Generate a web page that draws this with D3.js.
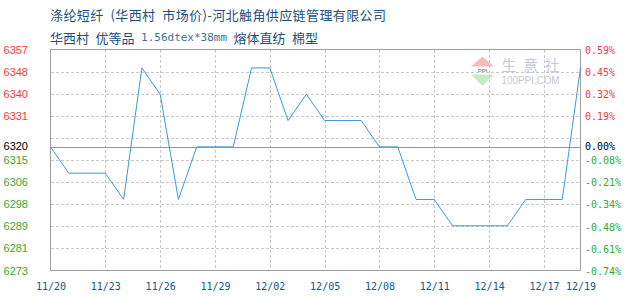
<!DOCTYPE html>
<html><head><meta charset="utf-8">
<script src="https://cdn.jsdelivr.net/npm/d3@7/dist/d3.min.js"></script>
<style>
html,body{margin:0;padding:0;background:#fff;}
svg{display:block;}
</style></head>
<body>
<svg id="chart" width="630" height="300"></svg>
<script>
// ---- data ----
const dates = ["2020/11/20","2020/11/21","2020/11/22","2020/11/23","2020/11/24","2020/11/25","2020/11/26","2020/11/27","2020/11/28","2020/11/29",
  "2020/11/30","2020/12/01","2020/12/02","2020/12/03","2020/12/04","2020/12/05","2020/12/06","2020/12/07","2020/12/08","2020/12/09",
  "2020/12/10","2020/12/11","2020/12/12","2020/12/13","2020/12/14","2020/12/15","2020/12/16","2020/12/17","2020/12/18","2020/12/19"];
const prices = [6320,6310,6310,6310,6300,6350,6340,6300,6320,6320,
  6320,6350,6350,6330,6340,6330,6330,6330,6320,6320,
  6300,6300,6290,6290,6290,6290,6300,6300,6300,6350];
const xTickDates = ["2020/11/20","2020/11/23","2020/11/26","2020/11/29","2020/12/02","2020/12/05","2020/12/08","2020/12/11","2020/12/14","2020/12/17","2020/12/19"];
const xTickLabels = ["11/20","11/23","11/26","11/29","12/02","12/05","12/08","12/11","12/14","12/17","12/19"];
const yTicks = [6357,6348.6,6340.2,6331.8,6323.4,6315,6306.6,6298.2,6289.8,6281.4,6273];
const leftLabels = ["6357","6348","6340","6331","","6315","6306","6298","6289","6281","6273"];
const rightLabels = ["0.59%","0.45%","0.32%","0.19%","","-0.08%","-0.21%","-0.34%","-0.48%","-0.61%","-0.74%"];
const baseValue = 6320;
const baseLeftLabel = "6320";
const baseRightLabel = "0.00%";
const title1 = "涤纶短纤\u2002(华西村\u2002市场价)-河北触角供应链管理有限公司";
const title2a = "华西村\u2002优等品\u2002";
const title2b = "1.56dtex*38mm";
const title2c = "\u2002熔体直纺\u2002棉型";

// ---- layout ----
const parse = d3.timeParse("%Y/%m/%d");
const L = 50.5, R = 580.5, T = 49.5, B = 270.5;
const svg = d3.select("#chart");
const x = d3.scaleTime().domain([parse(dates[0]), parse(dates[dates.length-1])]).range([L, R]);
const y = d3.scaleLinear().domain([yTicks[yTicks.length-1], yTicks[0]]).range([B, T]);

const red = "#f53a3a", green = "#33aa33";
const cjk = "'Noto Sans CJK SC','Noto Sans',sans-serif";
const mono = "'DejaVu Sans Mono','Liberation Mono',monospace";

// title
svg.append("text").attr("x", 50).attr("y", 14).attr("dominant-baseline","central")
  .style("font-family", cjk).style("font-size","13px").attr("fill","#1a4f7e")
  .attr("textLength", 336).attr("lengthAdjust","spacing").text(title1);
const t2 = svg.append("text").attr("x", 50).attr("y", 36.5).attr("dominant-baseline","central")
  .style("font-family", cjk).style("font-size","13px").attr("fill","#1a4f7e");
t2.append("tspan").text(title2a);
t2.append("tspan").style("font-family", mono).style("font-size","11px").attr("fill","#3d6f98").text(title2b);
t2.append("tspan").text(title2c);

// watermark
const wm = svg.append("g");
wm.append("path").attr("d", d3.line()([[471,66.5],[494,66.5],[482.5,56.5]])).attr("fill","#f6bcbc");
wm.append("path").attr("d", d3.line()([[471,74.5],[494,74.5],[482.5,86]])).attr("fill","#c6eac6");
wm.append("text").attr("x",482.5).attr("y",70.7).attr("text-anchor","middle").attr("dominant-baseline","central")
  .style("font-family","'Liberation Sans',sans-serif").style("font-size","6px").style("font-weight","bold").attr("fill","#8a9ab8").text("PPI");
wm.append("text").attr("x",501.5).attr("y",64.5).attr("dominant-baseline","central")
  .style("font-family", cjk).style("font-size","15px").attr("fill","#c3cadf")
  .attr("textLength",58).attr("lengthAdjust","spacing").text("生意社");
wm.append("text").attr("x",501.5).attr("y",80).attr("dominant-baseline","central")
  .style("font-family","'Liberation Sans',sans-serif").style("font-size","10px").attr("fill","#c8c8c8")
  .attr("textLength",58).attr("lengthAdjust","spacingAndGlyphs").text("100PPI.COM");

// grid
const grid = svg.append("g").attr("stroke","#c8c8c8").attr("stroke-dasharray","3,2").attr("shape-rendering","crispEdges");
grid.selectAll("line.h").data(yTicks.slice(1, -1)).join("line").attr("class","h")
  .attr("x1", L).attr("x2", R).attr("y1", d => Math.round(y(d)) + 0.5).attr("y2", d => Math.round(y(d)) + 0.5);
grid.selectAll("line.v").data(xTickDates.slice(1, -1)).join("line").attr("class","v")
  .attr("x1", d => Math.round(x(parse(d))) + 0.5).attr("x2", d => Math.round(x(parse(d))) + 0.5).attr("y1", T).attr("y2", B);

// base line
svg.append("line").attr("x1", L).attr("x2", R).attr("y1", Math.round(y(baseValue))+0.5).attr("y2", Math.round(y(baseValue))+0.5)
  .attr("stroke","#999").attr("shape-rendering","crispEdges");

// border
svg.append("rect").attr("x", L).attr("y", T).attr("width", R-L).attr("height", B-T)
  .attr("fill","none").attr("stroke","#a0a0a0").attr("shape-rendering","crispEdges");

// line
svg.append("path").datum(prices.map((v,i)=>[parse(dates[i]), v]))
  .attr("fill","none").attr("stroke","#3a9ad8").attr("stroke-width",1)
  .attr("d", d3.line().x(d => x(d[0])).y(d => y(d[1])));

// left axis
const leftAxis = d3.axisLeft(y).tickValues(yTicks).tickSize(0).tickPadding(0)
  .tickFormat((d,i) => leftLabels[i]);
const gl = svg.append("g").attr("transform","translate(28,0)").call(leftAxis);
gl.select(".domain").remove();
gl.selectAll("text").style("font-family","'Liberation Sans',sans-serif").style("font-size","11px")
  .attr("fill", (d,i) => i < 4 ? red : green);
gl.append("text").attr("x",0).attr("y", y(baseValue)-0.5).attr("dy","0.32em").attr("text-anchor","end")
  .style("font-family","'Liberation Sans',sans-serif").style("font-size","11px").attr("fill","#000").text(baseLeftLabel);

// right axis
const rightAxis = d3.axisRight(y).tickValues(yTicks).tickSize(0).tickPadding(0)
  .tickFormat((d,i) => rightLabels[i]);
const gr = svg.append("g").attr("transform","translate(585,0.5)").call(rightAxis);
gr.select(".domain").remove();
gr.selectAll("text").style("font-family", mono).style("font-size","10px")
  .attr("fill", (d,i) => i < 4 ? red : green);
gr.append("text").attr("x",0).attr("y", y(baseValue)-0.5).attr("dy","0.32em")
  .style("font-family", mono).style("font-size","10px").attr("fill","#000").text(baseRightLabel);

// bottom axis
const bottomAxis = d3.axisBottom(x).tickValues(xTickDates.map(parse)).tickSize(0).tickPadding(0)
  .tickFormat((d,i) => xTickLabels[i]);
const gb = svg.append("g").attr("transform","translate(0,283)").call(bottomAxis);
gb.select(".domain").remove();
gb.selectAll("text").attr("dy","0").attr("dominant-baseline","hanging").style("font-family", mono).style("font-size","10px").attr("fill","#0d5a8a");
</script>
</body></html>
